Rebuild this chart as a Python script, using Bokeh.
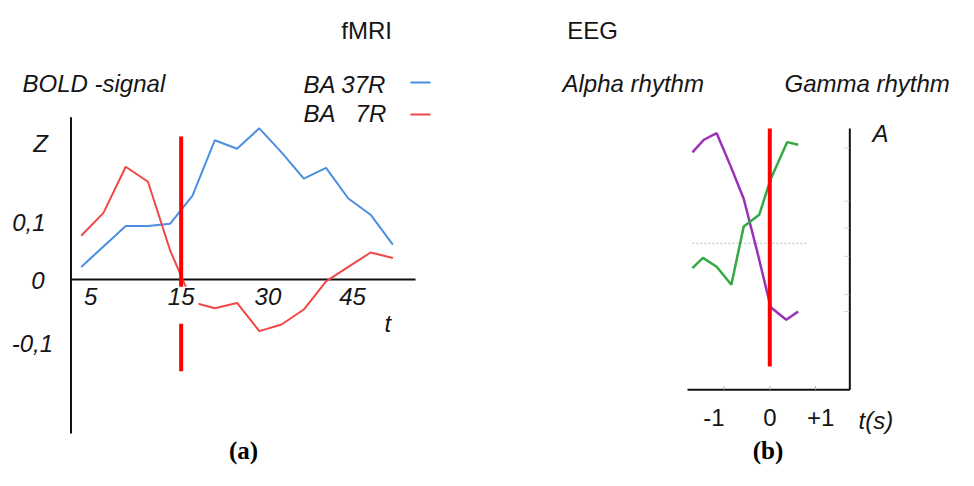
from bokeh.plotting import figure
from bokeh.models import Range1d
from bokeh.core.properties import value
from bokeh.embed import file_html
from bokeh.resources import INLINE

# ---------------- data: panel (a) fMRI ----------------
scan = [1, 2, 3, 4, 5, 6, 7, 8, 9, 10, 11, 12, 13, 14, 15]
ba37r = [0.021, 0.055, 0.089, 0.089, 0.093, 0.140, 0.232, 0.218, 0.252,
         0.212, 0.168, 0.186, 0.135, 0.108, 0.058]
ba7r = [0.073, 0.111, 0.188, 0.163, 0.048, -0.038, -0.048, -0.039, -0.086,
        -0.075, -0.050, -0.003, 0.021, 0.045, 0.036]
stim_scan = 5.49
xtick_labels = ["5", "15", "30", "45"]
xtick_pos = [1.43, 5.49, 9.39, 13.19]
ytick_labels = ["Z", "0,1", "0", "-0,1"]
ytick_pos = [0.2275, 0.095, -0.002, -0.107]
ytick_x = [-0.83, -1.35, -0.94, -1.19]

# ---------------- data: panel (b) EEG ----------------
t_alpha = [-1.69, -1.44, -1.16, -0.86, -0.57, -0.28, 0.02, 0.36, 0.62]
alpha = [9.09, 9.57, 9.82, 8.58, 7.31, 5.33, 3.16, 2.68, 3.00]
t_gamma = [-1.69, -1.46, -1.16, -0.84, -0.57, -0.23, 0.02, 0.38, 0.62]
gamma = [4.66, 5.05, 4.71, 4.02, 6.25, 6.70, 8.07, 9.48, 9.38]
stim_t = 0.0
eeg_xticks = [-1, 0, 1]
eeg_xtick_labels = ["-1", "0", "+1"]
eeg_faint_yticks = [9.26, 7.22, 6.20, 5.11, 3.64, 3.00]

FONT = value("Liberation Sans")
TXT = "#151515"

p = figure(width=958, height=470,
           x_range=Range1d(-2.625, 40.41), y_range=Range1d(-0.3183, 0.465),
           output_backend="svg", toolbar_location=None,
           x_axis_location=None, y_axis_location=None,
           min_border=0, outline_line_color=None)
p.xgrid.visible = False
p.ygrid.visible = False
p.extra_x_ranges = {"eeg_t": Range1d(-16.797, 4.120)}
p.extra_y_ranges = {"eeg_a": Range1d(-3.088, 14.899)}
E = dict(x_range_name="eeg_t", y_range_name="eeg_a")

# ---------- panel (a) ----------
# axes
p.segment(x0=[0.542], y0=[-0.2567], x1=[0.542], y1=[0.2706], line_color="#111111", line_width=2)
p.segment(x0=[0.542], y0=[0.0], x1=[16.02], y1=[0.0], line_color="#111111", line_width=2)
# series
p.line(scan, ba37r, line_color="#4a8fe0", line_width=2)
p.line(scan, ba7r, line_color="#f04848", line_width=2)
# stimulus line
p.segment(x0=[stim_scan], y0=[0.2383], x1=[stim_scan], y1=[-0.1528], line_color="#ff0000", line_width=4)
# x tick labels ("15" has a white background that hides the lines behind it)
p.text(x=xtick_pos, y=[-0.0428] * 4, text=xtick_labels, text_font=FONT,
       text_font_style="italic", text_font_size="24px", text_color=TXT,
       text_align="center", text_baseline="middle",
       background_fill_color=["#ffffff00", "#ffffff", "#ffffff00", "#ffffff00"],
       padding=dict(left=4, right=4, top=1, bottom=19))
p.text(x=ytick_x, y=ytick_pos, text=ytick_labels, text_font=FONT,
       text_font_style="italic", text_font_size="24px", text_color=TXT,
       text_align="center", text_baseline="middle")
p.text(x=[14.78], y=[-0.0733], text=["t"], text_font=FONT, text_font_style="italic",
       text_font_size="24px", text_color=TXT, text_align="center", text_baseline="middle")
p.text(x=[-1.637], y=[0.3267], text=["BOLD -signal"], text_font=FONT, text_font_style="italic",
       text_font_size="24px", text_color=TXT, text_align="left", text_baseline="middle")
p.text(x=[10.987, 10.987], y=[0.325, 0.2767], text=["BA 37R", "BA\u00a0\u00a0\u00a07R"], text_font=FONT,
       text_font_style="italic", text_font_size="24px", text_color=TXT,
       text_align="left", text_baseline="middle")
p.segment(x0=[15.79], y0=[0.3283], x1=[16.69], y1=[0.3283], line_color="#4a8fe0", line_width=2)
p.segment(x0=[15.79], y0=[0.275], x1=[16.69], y1=[0.275], line_color="#f04848", line_width=2)
p.text(x=[13.82], y=[0.415], text=["fMRI"], text_font=FONT, text_font_size="24px",
       text_color=TXT, text_align="center", text_baseline="middle")
p.text(x=[8.291], y=[-0.285], text=["(a)"], text_font=value("Liberation Serif"),
       text_font_style="bold", text_font_size="25px", text_color="#000000",
       text_align="center", text_baseline="middle")

# ---------- panel (b) ----------
p.segment(x0=[1.747], y0=[0.0], x1=[1.747], y1=[10.0], line_color="#111111", line_width=2, **E)
p.segment(x0=[-1.797], y0=[0.0], x1=[1.747], y1=[0.0], line_color="#111111", line_width=2, **E)
p.segment(x0=eeg_xticks, y0=[0.0] * 3, x1=eeg_xticks, y1=[0.15] * 3,
          line_color="#b0b0b0", line_width=1, **E)
p.segment(x0=[1.63] * 6, y0=eeg_faint_yticks, x1=[1.74] * 6, y1=eeg_faint_yticks,
          line_color="#cfcfcf", line_width=1, **E)
p.segment(x0=[-1.69], y0=[5.61], x1=[0.8], y1=[5.61], line_color="#d0d0d0",
          line_width=1.5, line_dash="2 2", **E)
p.line(t_alpha, alpha, line_color="#9b30b8", line_width=2.5, **E)
p.line(t_gamma, gamma, line_color="#33aa44", line_width=2.5, **E)
p.segment(x0=[stim_t], y0=[10.0], x1=[stim_t], y1=[0.89], line_color="#ff0000", line_width=4, **E)
p.text(x=eeg_xticks, y=[-1.06] * 3, x_offset=[-10, 0, 5], text=eeg_xtick_labels, text_font=FONT,
       text_font_size="24px", text_color=TXT, text_align="center", text_baseline="middle", **E)
p.text(x=[1.937], y=[-1.17], text=["t(s)"], text_font=FONT, text_font_style="italic",
       text_font_size="24px", text_color=TXT, text_align="left", text_baseline="middle", **E)
p.text(x=[2.417], y=[9.81], text=["A"], text_font=FONT, text_font_style="italic",
       text_font_size="24px", text_color=TXT, text_align="center", text_baseline="middle", **E)
p.text(x=[-4.526, 0.32], y=[11.72, 11.72], text=["Alpha rhythm", "Gamma rhythm"], text_font=FONT,
       text_font_style="italic", text_font_size="24px", text_color=TXT,
       text_align="left", text_baseline="middle", **E)
p.text(x=[-3.871], y=[13.75], text=["EEG"], text_font=FONT, text_font_size="24px",
       text_color=TXT, text_align="center", text_baseline="middle", **E)
p.text(x=[-0.039], y=[-2.323], text=["(b)"], text_font=value("Liberation Serif"),
       text_font_style="bold", text_font_size="25px", text_color="#000000",
       text_align="center", text_baseline="middle", **E)

open("out.html", "w").write(file_html(p, INLINE))
